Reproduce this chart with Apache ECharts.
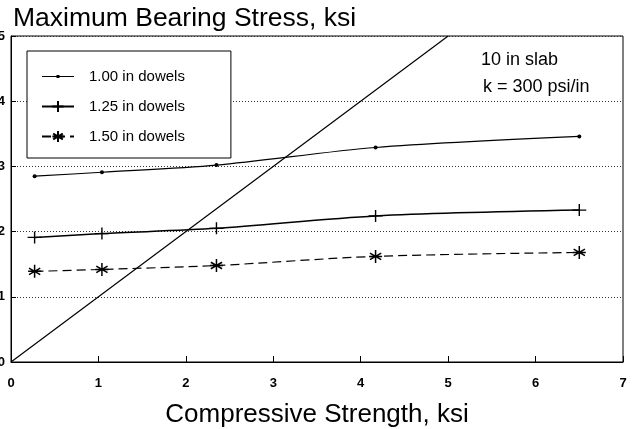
<!DOCTYPE html>
<html>
<head>
<meta charset="utf-8">
<script src="https://cdn.jsdelivr.net/npm/echarts@6/dist/echarts.min.js"></script>
<style>
html,body{margin:0;padding:0;background:#fff;}
#c{width:639px;height:429px;}
</style>
</head>
<body>
<div id="c"></div>
<script>
const strength = [0.27, 1.04, 2.35, 4.17, 6.5];
const dowel100 = [2.85, 2.91, 3.02, 3.29, 3.46];
const dowel125 = [1.91, 1.97, 2.05, 2.24, 2.33];
const dowel150 = [1.39, 1.42, 1.48, 1.62, 1.68];
const refLineX = [0, 5];
const refLineY = [0, 5];
const seriesNames = ['1.00 in dowels', '1.25 in dowels', '1.50 in dowels'];
const titleText = 'Maximum Bearing Stress, ksi';
const xAxisTitle = 'Compressive Strength, ksi';
const noteLines = ['10 in slab', 'k = 300 psi/in'];

const pair = (xs, ys) => xs.map((x, i) => [x, ys[i]]);
const FONT = '"Liberation Sans", Arial, sans-serif';
const plusPath = 'path://M0,5L10,5M5,0L5,10';
const starPath = 'path://M5,0L5,10M0.67,2.5L9.33,7.5M0.67,7.5L9.33,2.5M0,5L10,5';
const dotLegendIcon = 'path://M0,0h0.05v0.05h-0.05z M31.95,13.95h0.05v0.05h-0.05z M0,6.4h32v1.2h-32z M14.5,5.5h3v3h-3z';

const chart = echarts.init(document.getElementById('c'), null, {renderer: 'canvas'});
chart.setOption({
  animation: false,
  backgroundColor: '#fff',
  title: {
    text: titleText, left: 8, top: 0,
    textStyle: {fontFamily: FONT, fontSize: 26.5, fontWeight: 'normal', color: '#000'}
  },
  graphic: [
    {
      type: 'text', left: 481, top: 51,
      style: {text: noteLines[0], font: '18px ' + FONT, fill: '#000'}
    },
    {
      type: 'text', left: 483, top: 78,
      style: {text: noteLines[1], font: '18px ' + FONT, fill: '#000'}
    }
  ],
  legend: {
    orient: 'vertical', left: 27, top: 51,
    data: [{name: seriesNames[0], icon: dotLegendIcon}, seriesNames[1], seriesNames[2]],
    backgroundColor: '#fff',
    borderColor: '#000', borderWidth: 1, borderRadius: 0,
    padding: [18, 46, 14, 14],
    itemWidth: 32, itemHeight: 14, itemGap: 15,
    textStyle: {fontFamily: FONT, fontSize: 15, color: '#000', padding: [0, 0, 0, 10]},
    selectedMode: false
  },
  grid: {
    left: 11, right: 16, top: 36, bottom: 67,
    containLabel: false, outerBoundsMode: 'none',
    show: true, borderColor: '#000', borderWidth: 1
  },
  xAxis: {
    type: 'value', min: 0, max: 7, interval: 1,
    name: xAxisTitle, nameLocation: 'middle', nameGap: 40,
    nameTextStyle: {fontFamily: FONT, fontSize: 26, color: '#000'},
    axisLine: {show: true, lineStyle: {color: '#000', width: 1}},
    axisTick: {show: true, inside: true, length: 6, lineStyle: {color: '#000'}},
    axisLabel: {fontFamily: FONT, fontSize: 13, fontWeight: 'bold', color: '#000', margin: 15},
    splitLine: {show: false}
  },
  yAxis: {
    type: 'value', min: 0, max: 5, interval: 1,
    axisLine: {show: true, lineStyle: {color: '#000', width: 1}},
    axisTick: {show: true, inside: true, length: 5, lineStyle: {color: '#000'}},
    axisLabel: {fontFamily: FONT, fontSize: 13, fontWeight: 'bold', color: '#000', margin: 6},
    splitLine: {show: true, lineStyle: {color: '#333', type: [1, 2], width: 1}}
  },
  series: [
    {
      name: seriesNames[0], type: 'line', data: pair(strength, dowel100), smooth: 0.3,
      symbol: 'circle', symbolSize: 4, showAllSymbol: true,
      lineStyle: {color: '#000', width: 1.2}, itemStyle: {color: '#000'}
    },
    {
      name: seriesNames[1], type: 'line', data: pair(strength, dowel125), smooth: 0.3,
      symbol: plusPath, symbolSize: [14, 12],
      lineStyle: {color: '#000', width: 1.5},
      itemStyle: {color: '#000', borderColor: '#000', borderWidth: 1.3}
    },
    {
      name: seriesNames[2], type: 'line', data: pair(strength, dowel150), smooth: 0.3,
      symbol: starPath, symbolSize: 13,
      lineStyle: {color: '#000', width: 1.2, type: [9, 5]},
      itemStyle: {color: '#000', borderColor: '#000', borderWidth: 1.5}
    },
    {
      name: 'ref', type: 'line', data: pair(refLineX, refLineY),
      symbol: 'none', lineStyle: {color: '#000', width: 1.2}, silent: true
    }
  ]
});
</script>
</body>
</html>
